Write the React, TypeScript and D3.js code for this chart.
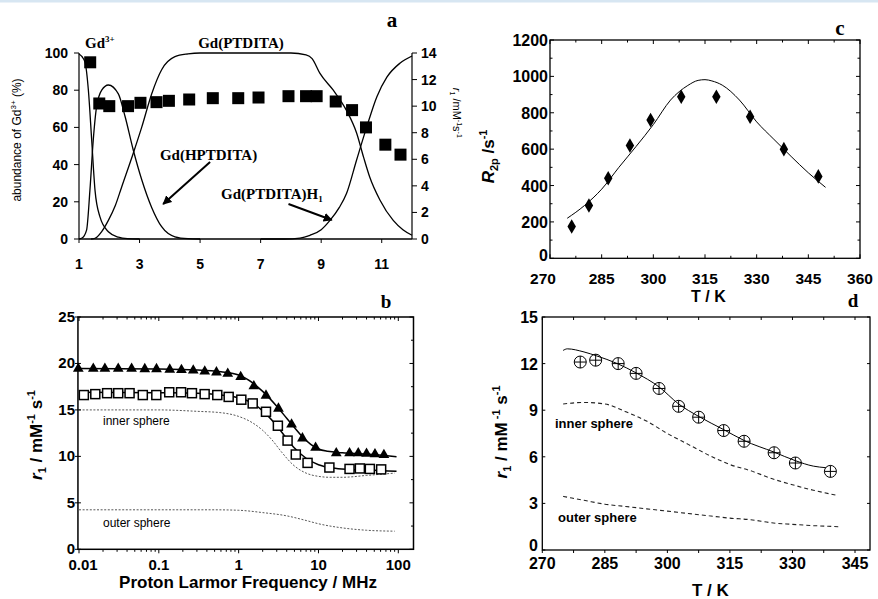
import React from "react";
import * as d3 from "d3";

// ---------- Panel a : species distribution vs pH ----------
const gd3PH = [1.0, 1.1, 1.2, 1.31, 1.42, 1.53, 1.69, 1.97, 2.3, 2.6, 3.0];
const gd3Pct = [99.5, 98, 95, 80, 53, 26, 12, 3.9, 1, 0.2, 0];
const hPH = [1.0, 1.1, 1.25, 1.36, 1.47, 1.58, 1.75, 1.97, 2.3, 2.52, 2.79, 3.07, 3.4, 3.73, 4.17, 4.6, 5.0];
const hPct = [0, 0.5, 4.8, 26, 53, 71, 80, 82.8, 78, 66, 48, 32, 17, 6.6, 1.2, 0.2, 0];
const ptPH = [1.4, 1.53, 1.75, 1.97, 2.2, 2.41, 2.79, 3.07, 3.4, 3.73, 4.17, 4.6, 5.0, 6, 7, 8, 8.5, 8.7, 8.96, 9.4, 9.84, 10.17, 10.4, 10.6, 10.94, 11.38, 11.7, 12];
const ptPct = [0, 0.4, 4, 10, 18, 28, 46, 60, 78, 91, 98, 99.5, 100, 100, 100, 100, 99, 97, 89, 80, 69, 57, 44, 33.5, 21, 10, 5, 2];
const hm1PH = [7.0, 7.8, 8.3, 8.63, 9.0, 9.29, 9.6, 9.84, 10.17, 10.5, 10.84, 11.17, 11.6, 12];
const hm1Pct = [0, 0, 0.5, 2, 5, 10, 17, 24.6, 42.5, 60, 76.5, 87, 94.5, 98.4];
const sqPH = [1.37, 1.67, 2.0, 2.62, 3.03, 3.56, 3.97, 4.64, 5.42, 6.26, 6.93, 7.92, 8.5, 8.85, 9.48, 10.02, 10.48, 11.12, 11.62];
const sqR1 = [13.3, 10.2, 10.0, 10.0, 10.25, 10.3, 10.4, 10.5, 10.6, 10.6, 10.65, 10.75, 10.75, 10.75, 10.35, 9.7, 8.4, 7.1, 6.35];
const aXTicks = [1, 3, 5, 7, 9, 11];
const aYLTicks = [0, 20, 40, 60, 80, 100];
const aYRTicks = [0, 2, 4, 6, 8, 10, 12, 14];

// ---------- Panel b : NMRD profiles ----------
const triF = [0.0098, 0.0151, 0.0211, 0.031, 0.0456, 0.0667, 0.0935, 0.137, 0.192, 0.27, 0.376, 0.527, 0.73, 1.06, 1.55, 2.2, 3.15, 4.6, 6.3, 9.2, 16.7, 24.5, 31.5, 40, 51, 66];
const triV = [19.5, 19.5, 19.5, 19.5, 19.5, 19.45, 19.45, 19.4, 19.35, 19.3, 19.2, 19.1, 18.95, 18.6, 17.6, 16.6, 15.2, 13.5, 12.0, 11.0, 10.4, 10.4, 10.4, 10.35, 10.3, 10.2];
const sqF = [0.0115, 0.016, 0.0225, 0.031, 0.043, 0.063, 0.093, 0.135, 0.19, 0.26, 0.375, 0.54, 0.75, 1.08, 1.5, 2.2, 3.1, 4.1, 5.2, 7.3, 13.7, 24.5, 33, 44, 61];
const sqV = [16.6, 16.7, 16.8, 16.8, 16.8, 16.6, 16.6, 16.9, 16.9, 16.8, 16.7, 16.6, 16.4, 16.1, 15.7, 14.8, 13.3, 11.7, 10.2, 9.3, 8.8, 8.65, 8.7, 8.65, 8.6];
const triFitF = [0.01, 0.1, 0.3, 0.6, 1, 1.5, 2, 3, 4, 5, 6, 8, 10, 13, 20, 40, 95];
const triFitV = [19.45, 19.4, 19.3, 19.1, 18.75, 17.9, 17.0, 15.4, 14.1, 13.1, 12.3, 11.3, 10.8, 10.55, 10.4, 10.25, 9.95];
const sqFitF = [0.01, 0.1, 0.3, 0.6, 1, 1.5, 2, 3, 4, 5, 7, 10, 15, 25, 50, 95];
const sqFitV = [16.9, 16.85, 16.8, 16.6, 16.3, 15.7, 14.9, 13.3, 11.9, 10.9, 9.8, 9.1, 8.75, 8.6, 8.5, 8.4];
const innerBF = [0.01, 0.1, 0.3, 0.6, 1, 1.5, 2, 2.6, 3.5, 4.8, 7, 10, 14, 20, 40, 90];
const innerBV = [15.0, 15.0, 14.85, 14.7, 14.3, 13.6, 12.8, 11.8, 10.4, 9.1, 8.2, 7.85, 7.75, 7.75, 7.95, 8.2];
const outerBF = [0.01, 0.5, 1, 2, 4, 7, 10, 20, 40, 90];
const outerBV = [4.25, 4.25, 4.2, 3.95, 3.6, 3.1, 2.75, 2.3, 2.05, 1.95];
const bXTicks = [0.01, 0.1, 1, 10, 100];
const bXLabels = ["0.01", "0.1", "1", "10", "100"];
const bYTicks = [0, 5, 10, 15, 20, 25];

// ---------- Panel c : R2p vs T ----------
const diaT = [276.3, 281.3, 286.9, 293.2, 299.2, 308.1, 318.3, 328.1, 337.9, 347.9];
const diaR = [175, 290, 440, 620, 760, 888, 888, 778, 600, 450];
const fitCT = [275, 280, 285, 290, 295, 300, 305, 310, 313, 315, 317, 320, 325, 330, 335, 340, 345, 350];
const fitCR = [220, 290, 380, 500, 615, 735, 870, 950, 978, 982, 975, 952, 870, 750, 654, 560, 470, 390];
const cXTicks = [270, 285, 300, 315, 330, 345, 360];
const cYTicks = [0, 200, 400, 600, 800, 1000, 1200];

// ---------- Panel d : r1 vs T ----------
const cirT = [279.1, 282.8, 288.2, 292.5, 298.0, 302.7, 307.5, 313.5, 318.4, 325.6, 330.7, 339.1];
const cirR = [12.1, 12.22, 12.0, 11.37, 10.4, 9.25, 8.55, 7.69, 7.0, 6.26, 5.6, 5.06];
const fitDT = [275, 276, 280, 283, 288, 292.5, 298, 302.7, 307.5, 313.5, 318.4, 325.6, 330.7, 335, 338];
const fitDR = [12.85, 12.95, 12.75, 12.5, 12.0, 11.4, 10.5, 9.4, 8.6, 7.75, 7.05, 6.3, 5.75, 5.4, 5.3];
const innerDT = [275, 280, 285, 290, 295, 300, 305, 310, 315, 320, 325, 330, 335, 341];
const innerDR = [9.4, 9.5, 9.4, 8.9, 8.3, 7.5, 6.8, 6.1, 5.5, 5.1, 4.6, 4.2, 3.85, 3.5];
const outerDT = [275, 280, 285, 290, 295, 300, 305, 310, 315, 320, 325, 330, 335, 341];
const outerDR = [3.45, 3.2, 2.95, 2.8, 2.65, 2.5, 2.35, 2.2, 2.05, 1.95, 1.75, 1.65, 1.57, 1.5];
const dXTicks = [270, 285, 300, 315, 330, 345];
const dYTicks = [0, 3, 6, 9, 12, 15];

const SANS = "'Liberation Sans', Arial, sans-serif";
const SERIF = "'Liberation Serif', 'Times New Roman', serif";

type P = [number, number];
const zip = (a: number[], b: number[]): P[] => a.map((v, i) => [v, b[i]]);

export default function App() {
  // scales
  const xA = d3.scaleLinear().domain([1, 12]).range([79, 412]);
  const yAL = d3.scaleLinear().domain([0, 100]).range([239, 53]);
  const yAR = d3.scaleLinear().domain([0, 14]).range([239, 53]);

  const xB = d3.scaleLog().domain([0.01, 100]).range([79, 398.3]);
  const yB = d3.scaleLinear().domain([0, 25]).range([549.3, 317]);
  const bX0 = xB(0.0097);
  const bX1 = xB(155);

  const xC = d3.scaleLinear().domain([270, 360]).range([550, 860]);
  const yC = d3.scaleLinear().domain([0, 1200]).range([258.3, 40]);

  const xD = d3.scaleLinear().domain([270, 345]).range([542.3, 855]);
  const yD = d3.scaleLinear().domain([0, 15]).range([550, 317]);
  const dX1 = xD(348.6);

  const lineA = d3.line<P>().x((d) => xA(d[0])).y((d) => yAL(d[1])).curve(d3.curveMonotoneX);
  const lineB = d3.line<P>().x((d) => xB(d[0])).y((d) => yB(d[1])).curve(d3.curveMonotoneX);
  const lineC = d3.line<P>().x((d) => xC(d[0])).y((d) => yC(d[1])).curve(d3.curveMonotoneX);
  const lineD = d3.line<P>().x((d) => xD(d[0])).y((d) => yD(d[1])).curve(d3.curveMonotoneX);

  const tri = d3.symbol().type(d3.symbolTriangle).size(50)();
  const dia = d3.symbol().type(d3.symbolDiamond).size(62)();

  const bMinor: number[] = [];
  [0.01, 0.1, 1, 10].forEach((dec) => {
    for (let k = 2; k <= 9; k++) bMinor.push(dec * k);
  });
  const cMinor = d3.range(270, 361, 7.5);
  const dMinor = d3.range(270, 349, 7.5);

  const tickStyle = { stroke: "#000", strokeWidth: 1 };

  return (
    <svg
      width={878}
      height={599}
      viewBox="0 0 878 599"
      style={{ position: "absolute", left: 0, top: 0, background: "#fff", display: "block" }}
    >
      <rect x={0} y={0} width={878} height={599} fill="#fff" />
      <rect x={0} y={0} width={878} height={2.5} fill="#d7e6f2" />

      {/* ================= Panel a ================= */}
      <g>
        {[
          zip(gd3PH, gd3Pct),
          zip(hPH, hPct),
          zip(ptPH, ptPct),
          zip(hm1PH, hm1Pct),
        ].map((d, i) => (
          <path key={i} d={lineA(d) || ""} fill="none" stroke="#000" strokeWidth={1.3} />
        ))}
        {sqPH.map((p, i) => (
          <rect key={i} x={xA(p) - 6} y={yAR(sqR1[i]) - 6} width={12} height={12} fill="#000" />
        ))}
        <line x1={xA(1)} x2={xA(12)} y1={yAL(0)} y2={yAL(0)} stroke="#000" strokeWidth={1.6} />
        <line x1={xA(1)} x2={xA(1)} y1={yAL(0)} y2={yAL(100)} stroke="#000" strokeWidth={1.2} />
        <line x1={xA(12)} x2={xA(12)} y1={yAL(0)} y2={yAL(100)} stroke="#000" strokeWidth={1.2} />
        {aXTicks.map((t) => (
          <g key={t}>
            <line x1={xA(t)} x2={xA(t)} y1={yAL(0)} y2={yAL(0) + 4} {...tickStyle} />
            <text x={xA(t)} y={269} textAnchor="middle" fontFamily={SANS} fontWeight="bold" fontSize={14}>
              {t}
            </text>
          </g>
        ))}
        {aYLTicks.map((t) => (
          <g key={t}>
            <line x1={xA(1) - 5} x2={xA(1)} y1={yAL(t)} y2={yAL(t)} {...tickStyle} />
            <text x={68} y={yAL(t) + 5} textAnchor="end" fontFamily={SANS} fontWeight="bold" fontSize={14}>
              {t}
            </text>
          </g>
        ))}
        {aYRTicks.map((t) => (
          <g key={t}>
            <line x1={xA(12)} x2={xA(12) + 5} y1={yAR(t)} y2={yAR(t)} {...tickStyle} />
            <text x={421} y={yAR(t) + 5} textAnchor="start" fontFamily={SANS} fontWeight="bold" fontSize={14}>
              {t}
            </text>
          </g>
        ))}
        <text transform={`translate(21,${yAL(50) - 6}) rotate(-90)`} textAnchor="middle" fontFamily={SANS} fontSize={12}>
          abundance of Gd
          <tspan fontSize={8} dy={-5}>3+</tspan>
          <tspan dy={5}> (%)</tspan>
        </text>
        <text transform={`translate(453,${yAR(9.5)}) rotate(90)`} textAnchor="middle" fontFamily={SANS} fontSize={11}>
          <tspan fontStyle="italic">r</tspan>
          <tspan fontSize={7} dy={3}>1</tspan>
          <tspan dy={-3}> /mM</tspan>
          <tspan fontSize={7} dy={-4}>-1</tspan>
          <tspan dy={4}>s</tspan>
          <tspan fontSize={7} dy={-4}>-1</tspan>
        </text>
        <text x={392} y={27} textAnchor="middle" fontFamily={SERIF} fontWeight="bold" fontSize={21}>a</text>
        <text x={85} y={48} fontFamily={SERIF} fontWeight="bold" fontSize={15}>
          Gd<tspan fontSize={9} dy={-6}>3+</tspan>
        </text>
        <text x={xA(6.35)} y={48} textAnchor="middle" fontFamily={SERIF} fontWeight="bold" fontSize={15}>Gd(PTDITA)</text>
        <text x={xA(5.28)} y={160} textAnchor="middle" fontFamily={SERIF} fontWeight="bold" fontSize={15}>Gd(HPTDITA)</text>
        <text x={221} y={199} fontFamily={SERIF} fontWeight="bold" fontSize={15}>
          Gd(PTDITA)H<tspan fontSize={9} dy={3}>1</tspan>
        </text>
        <defs>
          <marker id="arr" viewBox="0 0 10 10" refX={9} refY={5} markerWidth={9} markerHeight={9} orient="auto-start-reverse" markerUnits="userSpaceOnUse">
            <path d="M0,0 L10,5 L0,10 z" fill="#000" />
          </marker>
        </defs>
        <line x1={xA(5.33)} y1={yAL(41.4)} x2={xA(3.78)} y2={yAL(18.8)} stroke="#000" strokeWidth={2} markerEnd="url(#arr)" />
        <line x1={xA(7.92)} y1={yAL(18.8)} x2={xA(9.35)} y2={yAL(10.2)} stroke="#000" strokeWidth={2} markerEnd="url(#arr)" />
      </g>

      {/* ================= Panel b ================= */}
      <g>
        <path d={lineB(zip(innerBF, innerBV)) || ""} fill="none" stroke="#444" strokeWidth={0.9} strokeDasharray="2,1.6" />
        <path d={lineB(zip(outerBF, outerBV)) || ""} fill="none" stroke="#444" strokeWidth={0.9} strokeDasharray="2,1.6" />
        <path d={lineB(zip(triFitF, triFitV)) || ""} fill="none" stroke="#000" strokeWidth={1.5} />
        <path d={lineB(zip(sqFitF, sqFitV)) || ""} fill="none" stroke="#000" strokeWidth={1.5} />
        {triF.map((f, i) => (
          <path key={i} d={tri || ""} transform={`translate(${xB(f)},${yB(triV[i]) + 0.5})`} fill="#000" />
        ))}
        {sqF.map((f, i) => (
          <rect key={i} x={xB(f) - 4.5} y={yB(sqV[i]) - 4.5} width={9} height={9} fill="#fff" stroke="#000" strokeWidth={1.5} />
        ))}
        <rect x={bX0} y={yB(25)} width={bX1 - bX0} height={yB(0) - yB(25)} fill="none" stroke="#000" strokeWidth={1.5} />
        {bXTicks.map((t, i) => (
          <g key={t}>
            <line x1={xB(t)} x2={xB(t)} y1={yB(0)} y2={yB(0) + 4} {...tickStyle} />
            <line x1={xB(t)} x2={xB(t)} y1={yB(25)} y2={yB(25) + 4} {...tickStyle} />
            <text x={xB(t) + (i === 0 ? 4 : 0)} y={570} textAnchor="middle" fontFamily={SANS} fontWeight="bold" fontSize={15}>
              {bXLabels[i]}
            </text>
          </g>
        ))}
        {bMinor.map((t) => (
          <g key={t}>
            <line x1={xB(t)} x2={xB(t)} y1={yB(0)} y2={yB(0) + 2.5} {...tickStyle} />
            <line x1={xB(t)} x2={xB(t)} y1={yB(25)} y2={yB(25) + 2.5} {...tickStyle} />
          </g>
        ))}
        {bYTicks.map((t) => (
          <g key={t}>
            <line x1={bX0 - 3} x2={bX0 + 3} y1={yB(t)} y2={yB(t)} {...tickStyle} />
            <line x1={bX1 - 4} x2={bX1} y1={yB(t)} y2={yB(t)} {...tickStyle} />
            <text x={75} y={yB(t) + 5} textAnchor="end" fontFamily={SANS} fontWeight="bold" fontSize={15}>
              {t}
            </text>
          </g>
        ))}
        {[2.5, 7.5, 12.5, 17.5, 22.5].map((t) => (
          <line key={t} x1={bX1 - 2.5} x2={bX1} y1={yB(t)} y2={yB(t)} {...tickStyle} />
        ))}
        <text x={xB(1.31)} y={588} textAnchor="middle" fontFamily={SANS} fontWeight="bold" fontSize={17}>
          Proton Larmor Frequency / MHz
        </text>
        <text transform={`translate(42,${yB(12.3)}) rotate(-90)`} textAnchor="middle" fontFamily={SANS} fontWeight="bold" fontSize={17}>
          <tspan fontStyle="italic">r</tspan>
          <tspan fontSize={11} dy={4}>1</tspan>
          <tspan dy={-4}> / mM</tspan>
          <tspan fontSize={11} dy={-7}>-1</tspan>
          <tspan dy={7}> s</tspan>
          <tspan fontSize={11} dy={-7}>-1</tspan>
        </text>
        <text x={386} y={308} textAnchor="middle" fontFamily={SERIF} fontWeight="bold" fontSize={19}>b</text>
        <text x={103} y={425} fontFamily={SANS} fontSize={12}>inner sphere</text>
        <text x={103} y={527} fontFamily={SANS} fontSize={12}>outer sphere</text>
      </g>

      {/* ================= Panel c ================= */}
      <g>
        <path d={lineC(zip(fitCT, fitCR)) || ""} fill="none" stroke="#000" strokeWidth={1} />
        {diaT.map((t, i) => (
          <path key={i} d={dia || ""} transform={`translate(${xC(t)},${yC(diaR[i])})`} fill="#000" />
        ))}
        <rect x={xC(270)} y={yC(1200)} width={xC(360) - xC(270)} height={yC(0) - yC(1200)} fill="none" stroke="#000" strokeWidth={1.3} />
        {cMinor.map((t, i) => (
          <g key={t}>
            <line x1={xC(t)} x2={xC(t)} y1={yC(1200)} y2={yC(1200) + (i % 2 === 0 ? 4 : 2.5)} {...tickStyle} />
            <line x1={xC(t)} x2={xC(t)} y1={yC(0)} y2={yC(0) - (i % 2 === 0 ? 4 : 2.5)} {...tickStyle} />
          </g>
        ))}
        {cXTicks.map((t, i) => (
          <text key={t} x={xC(t) - (i === 0 ? 7 : 0)} y={284} textAnchor="middle" fontFamily={SANS} fontWeight="bold" fontSize={15.5}>
            {t}
          </text>
        ))}
        {cYTicks.map((t) => (
          <g key={t}>
            <line x1={xC(270)} x2={xC(270) + 4} y1={yC(t)} y2={yC(t)} {...tickStyle} />
            <line x1={xC(360) - 4} x2={xC(360)} y1={yC(t)} y2={yC(t)} {...tickStyle} />
            <text x={548} y={yC(t) + 6 - (t === 0 ? 3 : 0)} textAnchor="end" fontFamily={SANS} fontWeight="bold" fontSize={16}>
              {t}
            </text>
          </g>
        ))}
        {d3.range(100, 1200, 200).map((t) => (
          <g key={t}>
            <line x1={xC(270)} x2={xC(270) + 2.5} y1={yC(t)} y2={yC(t)} {...tickStyle} />
            <line x1={xC(360) - 2.5} x2={xC(360)} y1={yC(t)} y2={yC(t)} {...tickStyle} />
          </g>
        ))}
        <text x={xC(316)} y={302} textAnchor="middle" fontFamily={SANS} fontWeight="bold" fontSize={16}>T / K</text>
        <text transform={`translate(494,${yC(560)}) rotate(-90)`} textAnchor="middle" fontFamily={SANS} fontWeight="bold" fontSize={17}>
          <tspan fontStyle="italic">R</tspan>
          <tspan fontSize={11} dy={4}>2p</tspan>
          <tspan dy={-4}> /s</tspan>
          <tspan fontSize={11} dy={-7}>-1</tspan>
        </text>
        <text x={840} y={35} textAnchor="middle" fontFamily={SERIF} fontWeight="bold" fontSize={21}>c</text>
      </g>

      {/* ================= Panel d ================= */}
      <g>
        <path d={lineD(zip(innerDT, innerDR)) || ""} fill="none" stroke="#222" strokeWidth={1.1} strokeDasharray="4,3" />
        <path d={lineD(zip(outerDT, outerDR)) || ""} fill="none" stroke="#222" strokeWidth={1.1} strokeDasharray="4,3" />
        <path d={lineD(zip(fitDT, fitDR)) || ""} fill="none" stroke="#000" strokeWidth={1} />
        {cirT.map((t, i) => (
          <g key={i} transform={`translate(${xD(t)},${yD(cirR[i])})`}>
            <circle r={6} fill="none" stroke="#000" strokeWidth={1} />
            <line x1={-6} x2={6} y1={0} y2={0} stroke="#000" strokeWidth={1} />
            <line x1={0} x2={0} y1={-6} y2={6} stroke="#000" strokeWidth={1} />
          </g>
        ))}
        <rect x={xD(270)} y={yD(15)} width={dX1 - xD(270)} height={yD(0) - yD(15)} fill="none" stroke="#000" strokeWidth={1.3} />
        {dMinor.map((t) => (
          <g key={t}>
            <line x1={xD(t)} x2={xD(t)} y1={yD(15)} y2={yD(15) + 3} {...tickStyle} />
            <line x1={xD(t)} x2={xD(t)} y1={yD(0)} y2={yD(0) + 3} {...tickStyle} />
          </g>
        ))}
        {dXTicks.map((t) => (
          <text key={t} x={xD(t)} y={569} textAnchor="middle" fontFamily={SANS} fontWeight="bold" fontSize={16}>
            {t}
          </text>
        ))}
        {dYTicks.map((t) => (
          <g key={t}>
            <line x1={xD(270)} x2={xD(270) + 3} y1={yD(t)} y2={yD(t)} {...tickStyle} />
            <line x1={dX1 - 3} x2={dX1} y1={yD(t)} y2={yD(t)} {...tickStyle} />
            <text x={538} y={yD(t) + 6 - (t === 0 ? 5 : 0)} textAnchor="end" fontFamily={SANS} fontWeight="bold" fontSize={16}>
              {t}
            </text>
          </g>
        ))}
        <text x={xD(310.3)} y={596} textAnchor="middle" fontFamily={SANS} fontWeight="bold" fontSize={17}>T / K</text>
        <text transform={`translate(507,${yD(7.6)}) rotate(-90)`} textAnchor="middle" fontFamily={SANS} fontWeight="bold" fontSize={17}>
          <tspan fontStyle="italic">r</tspan>
          <tspan fontSize={11} dy={4}>1</tspan>
          <tspan dy={-4}> / mM</tspan>
          <tspan fontSize={11} dy={-7}> -1</tspan>
          <tspan dy={7}> s</tspan>
          <tspan fontSize={11} dy={-7}>-1</tspan>
        </text>
        <text x={853} y={307} textAnchor="middle" fontFamily={SERIF} fontWeight="bold" fontSize={19}>d</text>
        <text x={555} y={428} fontFamily={SANS} fontWeight="bold" fontSize={13}>inner sphere</text>
        <text x={558} y={522} fontFamily={SANS} fontWeight="bold" fontSize={13}>outer sphere</text>
      </g>
    </svg>
  );
}
